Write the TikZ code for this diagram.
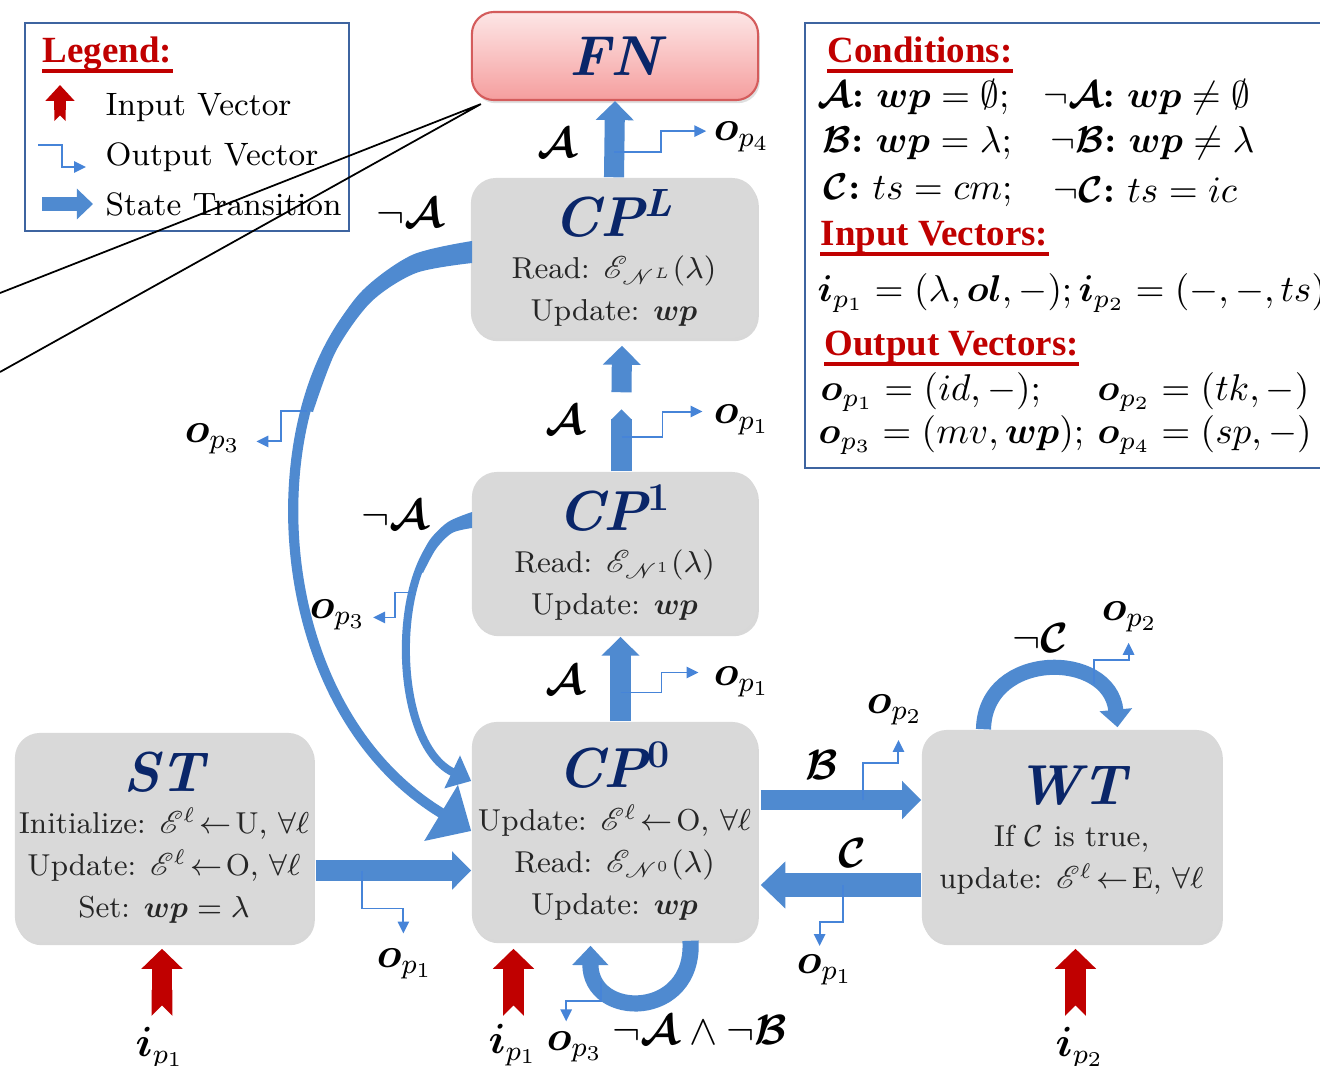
\RequirePackage{fix-cm}
\documentclass[tikz,border=0pt]{standalone}
\usepackage{amsmath,amssymb}
\usepackage{mathrsfs}
\usepackage{bm}
\usepackage{fontspec}
\newfontfamily\headfont{Liberation Serif}
\usetikzlibrary{positioning,shapes,shadows,arrows.meta,calc}

\definecolor{transblue}{RGB}{79,138,208}
\definecolor{outblue}{RGB}{70,132,216}
\definecolor{inred}{RGB}{192,0,0}
\definecolor{boxgray}{RGB}{217,217,217}
\definecolor{titleblue}{RGB}{10,38,105}
\definecolor{frameblue}{RGB}{62,100,160}
\definecolor{fnborder}{RGB}{212,92,92}
\definecolor{fntop}{RGB}{253,230,230}
\definecolor{fnbot}{RGB}{245,158,158}

\newcommand{\sttitle}[1]{{\color{titleblue}\fontsize{16}{18}\selectfont\bfseries\itshape #1}}
\newcommand{\cptitle}[1]{\sttitle{CP\textsuperscript{#1}}}
\newcommand{\setto}[1]{\mathscr{E}^{\ell}\!\leftarrow\!\mathrm{#1},\,\forall\ell}

\tikzset{
  state/.style={rectangle, rounded corners=0.25cm, fill=boxgray, align=center, inner sep=1pt,
    text=black!85, font=\fontsize{8.6}{12}\selectfont,
    drop shadow={opacity=0.3, shadow xshift=0.5pt, shadow yshift=-0.9pt}},
  trans/.style={draw=transblue, line width=5.7pt, -{Triangle[width=10.5pt,length=5.4pt]}},
  ctrans/.style={draw=transblue, line width=3.6pt},
  inarr/.style={draw=inred, line width=5.9pt, {Triangle Cap[reversed]}-{Triangle[width=11.4pt,length=5.7pt]}},
  outarr/.style={draw=outblue, line width=0.55pt, -{Triangle[width=3.2pt,length=3.4pt]}},
  lbl/.style={font=\fontsize{12}{14}\selectfont, inner sep=1pt},
  cond/.style={anchor=west, inner sep=0pt, font=\fontsize{10.6}{13}\selectfont},
  legtxt/.style={anchor=west, inner sep=0pt, font=\fontsize{9.2}{12}\selectfont},
  heading/.style={anchor=base west, inner sep=0pt, text=inred, font=\headfont\bfseries\fontsize{10.5}{12}\selectfont},
  infobox/.style={draw=frameblue, line width=0.7pt}
}

\begin{document}
\begin{tikzpicture}[x=0.01cm, y=-0.01cm]
\path[use as bounding box, fill=white] (0,0) rectangle (1320,1066);

% legend
\draw[infobox] (25,23) rectangle (349,231);
\node[heading] (hLeg) at (42,62) {Legend:};
\draw[inred, line width=1pt] ([yshift=-2.5pt]hLeg.base west) -- ([yshift=-2.5pt]hLeg.base east);
\draw[inarr, line width=3.2pt, {Triangle Cap[reversed]}-{Triangle[width=8pt,length=4.5pt]}] (60,121) -- (60,85);
\node[legtxt] (lIn) at (105,108) {Input Vector};
\draw[outarr] (38,145) -| (62,167) -- (86,167);
\node[legtxt] (lOut) at (105,157) {Output Vector};
\draw[trans, line width=4pt, -{Triangle[width=8.5pt,length=4.6pt]}] (42,204) -- (93,204);
\node[legtxt] (lTr) at (105,204) {State Transition};

% conditions
\draw[infobox] (805,23) rectangle (1335,468);
\node[heading] (hCond) at (827,62) {Conditions:};
\draw[inred, line width=1pt] ([yshift=-2.5pt]hCond.base west) -- ([yshift=-2.5pt]hCond.base east);
\node[cond] (cA) at (817,97) {$\bm{\mathcal{A}}{\bm{:}}\ \bm{wp}=\emptyset;$};
\node[cond] (cnA) at (1043,97) {$\neg\bm{\mathcal{A}}{\bm{:}}\ \bm{wp}\neq\emptyset$};
\node[cond] (cB) at (822,143) {$\bm{\mathcal{B}}{\bm{:}}\ \bm{wp}=\lambda;$};
\node[cond] (cnB) at (1050,143) {$\neg\bm{\mathcal{B}}{\bm{:}}\ \bm{wp}\neq\lambda$};
\node[cond] (cC) at (823,190) {$\bm{\mathcal{C}}{\bm{:}}\ ts=cm;$};
\node[cond] (cnC) at (1053,190) {$\neg\bm{\mathcal{C}}{\bm{:}}\ ts=ic$};
\node[heading] (hIn) at (820,245) {Input Vectors:};
\draw[inred, line width=1pt] ([yshift=-2.5pt]hIn.base west) -- ([yshift=-2.5pt]hIn.base east);
\node[cond] (vIn) at (817,293) {$\bm{i}_{p_1}=(\lambda,\bm{ol},-);\bm{i}_{p_2}=(-,-,ts)$};
\node[heading] (hOut) at (824,355) {Output Vectors:};
\draw[inred, line width=1pt] ([yshift=-2.5pt]hOut.base west) -- ([yshift=-2.5pt]hOut.base east);
\node[cond] (vO1) at (820,392) {$\bm{o}_{p_1}=(id,-);$};
\node[cond] (vO2) at (1097,392) {$\bm{o}_{p_2}=(tk,-)$};
\node[cond] (vO3) at (818,435) {$\bm{o}_{p_3}=(mv,\bm{wp});$};
\node[cond] (vO4) at (1097,435) {$\bm{o}_{p_4}=(sp,-)$};

% states
\node[rectangle, rounded corners=0.22cm, draw=fnborder, line width=0.6pt, top color=fntop, bottom color=fnbot,
  minimum width=2.86cm, minimum height=0.88cm, drop shadow={opacity=0.25, shadow xshift=0.5pt, shadow yshift=-0.9pt}]
  (FN) at (615,56) {\sttitle{FN}};
\node[state, minimum width=2.86cm, minimum height=1.6cm] (CPL) at (614,258)
  {\cptitle{L}\\ Read: $\mathscr{E}_{\mathscr{N}^{L}}(\lambda)$\\ Update: $\bm{wp}$};
\node[state, minimum width=2.85cm, minimum height=1.61cm] (CP1) at (614.5,552.5)
  {\cptitle{\upshape 1}\\ Read: $\mathscr{E}_{\mathscr{N}^{1}}(\lambda)$\\ Update: $\bm{wp}$};
\node[state, minimum width=2.85cm, minimum height=2.18cm] (CP0) at (614.5,831)
  {\cptitle{\upshape 0}\\ Update: $\setto{O}$\\ Read: $\mathscr{E}_{\mathscr{N}^{0}}(\lambda)$\\ Update: $\bm{wp}$};
\node[state, minimum width=2.98cm, minimum height=2.09cm] (ST) at (164,837.5)
  {\sttitle{ST}\\ Initialize: $\setto{U}$\\ Update: $\setto{O}$\\ Set: $\bm{wp}=\lambda$};
\node[state, minimum width=2.99cm, minimum height=2.12cm] (WT) at (1071.5,836)
  {\sttitle{WT}\\ If $\mathcal{C}$ is true,\\ update: $\setto{E}$\\[-7pt]\mbox{}};

% stray lines
\coordinate (fnfoot) at ($(FN.south west)+(10,3)$);
\coordinate (cutA) at (0,293);
\coordinate (cutB) at (0,372);
\draw[black, line width=0.5pt] (cutA) -- (fnfoot) -- (cutB);

% transitions
\draw[trans] (CPL.north) -- (FN.south) coordinate[pos=0.33] (q1);
\draw[trans, -{Triangle[width=5.7pt,length=3pt]}] ($(CP1.north)+(7,0)$) -- ($(CP1.north)+(7,-62)$) coordinate[pos=0.56] (q2);
\draw[trans] ($(CP1.north)+(7,-79)$) -- ($(CPL.south)+(8,7)$);
\draw[trans] ($(CP0.north)+(6,0)$) -- ($(CP1.south)+(6,3)$) coordinate[pos=0.34] (q3);
\draw[trans] ($(ST.east)+(2,33)$) coordinate (s0) -- (s0 -| CP0.west) coordinate[pos=0.3] (q4);
\draw[trans] ($(CP0.east)+(3,-31)$) coordinate (b0) -- (b0 -| WT.west) coordinate[pos=0.64] (q5);
\draw[trans, line width=6.8pt, -{Triangle[width=13pt,length=7pt]}] ($(WT.west)+(0,49)$) coordinate (c0) -- ($(c0 -| CP0.east)+(3,0)$) coordinate[pos=0.49] (q6);
% long bend CP^L -> CP^0, thicker at its start
\draw[ctrans, line width=2.9pt, -{Triangle[width=18pt,length=10pt]}] ($(CPL.west)+(0,-6)$) coordinate (g0) .. controls (260,250) and (220,680) .. (CP0.west) coordinate[pos=0.4] (q7);
\fill[transblue] plot[smooth] coordinates {(472,241) (412,255) (361,292) (326,345) (303,410)}
  -- plot[smooth] coordinates {(313,412) (336,351) (371,302) (416,273) (472,263)} -- cycle;
% short bend CP^1 -> CP^0
\draw[ctrans, line width=2.3pt, -{Triangle[width=10pt,length=6pt]}] ($(CP1.west)+(0,-32)$) coordinate (h0) .. controls (390,525) and (385,740) .. ($(CP0.west)+(0,-50)$) coordinate[pos=0.37] (q8);
\fill[transblue] plot[smooth] coordinates {(472,512) (448,522) (429,541) (416,569)}
  -- plot[smooth] coordinates {(423,573) (436,549) (452,533) (472,528)} -- cycle;
% self loops
\draw[ctrans, line width=4.6pt, -{Triangle[width=10pt,length=5.5pt]}] ($(CP0.south)+(76,0)$) .. controls (695,1020) and (590,1020) .. ($(CP0.south)+(-24,5)$) coordinate[pos=0.8] (q9);
\draw[ctrans, line width=4.3pt, -{Triangle[width=9pt,length=5pt]}] ($(WT.north)+(-88,0)$) .. controls (985,650) and (1110,650) .. ($(WT.north)+(46,-2)$) coordinate[pos=0.75] (q10);

% outputs
\draw[outarr] (q1) -| ++(47,-21) -- ++(45,0);
\draw[outarr] (q2) -| ++(41,-25) -- ++(40,0);
\draw[outarr] (q3) -| ++(41,-20) -- ++(37,0);
\draw[outarr] (q4) |- ++(41,38) -- ++(0,25);
\draw[outarr] (q5) |- ++(35,-37) -- ++(0,-23);
\draw[outarr] (q6) |- ++(-23,37) -- ++(0,24);
\draw[outarr] (q7) -| ++(-26,30) -- ++(-25,0);
\draw[outarr] (q8) -| ++(-18,25) -- ++(-22,0);
\draw[outarr] (q9) |- ++(-35,20) -- ++(0,20);
\draw[outarr] (q10) |- ++(35,-24) -- ++(0,-17);

% inputs
\draw[inarr] ($(ST.south)+(-2,73)$) -- ($(ST.south)+(-2,6)$);
\draw[inarr] ($(CP0.south)+(-101,75)$) -- ($(CP0.south)+(-101,8)$);
\draw[inarr] ($(WT.south)+(4,73)$) -- ($(WT.south)+(4,6)$);

% labels
\node[lbl] (lnA1) at (410,213) {$\neg\bm{\mathcal{A}}$};
\node[lbl] (lA1) at (557,143) {$\bm{\mathcal{A}}$};
\node[lbl] (lo4) at (742,137) {$\bm{o}_{p_4}$};
\node[lbl] (lA2) at (565,420) {$\bm{\mathcal{A}}$};
\node[lbl] (lo1a) at (742,420) {$\bm{o}_{p_1}$};
\node[lbl] (lA3) at (565,680) {$\bm{\mathcal{A}}$};
\node[lbl] (lo1b) at (742,682) {$\bm{o}_{p_1}$};
\node[lbl] (lnA2) at (395,515) {$\neg\bm{\mathcal{A}}$};
\node[lbl] (lo3a) at (338,615) {$\bm{o}_{p_3}$};
\node[lbl] (lo3b) at (213,439) {$\bm{o}_{p_3}$};
\node[lbl] (lB) at (822,765) {$\bm{\mathcal{B}}$};
\node[lbl] (lo2a) at (895,710) {$\bm{o}_{p_2}$};
\node[lbl] (lC) at (852,853) {$\bm{\mathcal{C}}$};
\node[lbl] (lo1c) at (825,970) {$\bm{o}_{p_1}$};
\node[lbl] (lnC) at (1040,638) {$\neg\bm{\mathcal{C}}$};
\node[lbl] (lo2b) at (1130,617) {$\bm{o}_{p_2}$};
\node[lbl] (lo1d) at (405,964) {$\bm{o}_{p_1}$};
\node[lbl] (li1a) at (160,1048) {$\bm{i}_{p_1}$};
\node[lbl] (li1b) at (513,1045) {$\bm{i}_{p_1}$};
\node[lbl] (lo3c) at (575,1047) {$\bm{o}_{p_3}$};
\node[lbl] (lnAB) at (700,1030) {$\neg\bm{\mathcal{A}}\wedge\neg\bm{\mathcal{B}}$};
\node[lbl] (li2) at (1080,1048) {$\bm{i}_{p_2}$};
\end{tikzpicture}
\end{document}
